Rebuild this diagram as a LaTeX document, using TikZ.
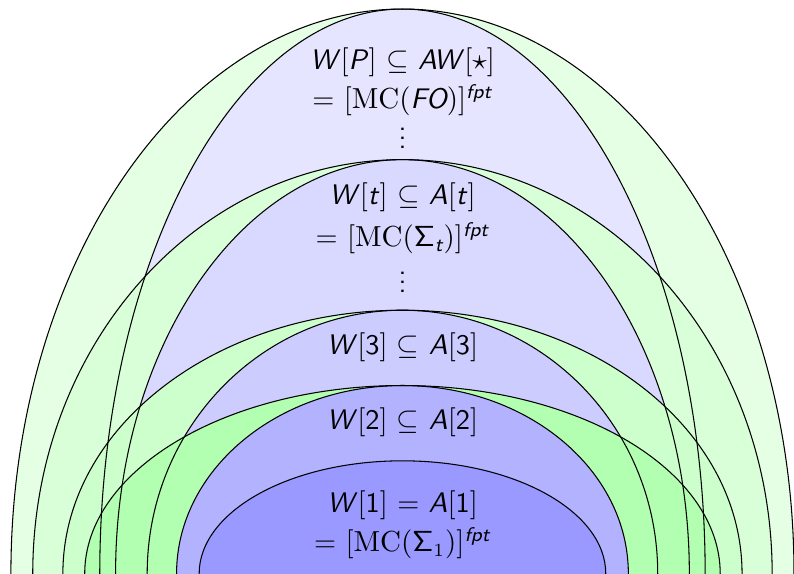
\documentclass[tikz,border=0pt]{standalone}
\usepackage{amsmath,amssymb}
\usepackage{tikz}
\usepackage{xcolor}
\renewcommand{\familydefault}{\sfdefault}
\newcommand{\sv}[1]{\textit{#1}}
\newcommand{\br}[1]{$[$#1$]$}
\newcommand{\fpt}{^{\textit{fpt}}}
\newcommand{\vdts}{\vbox{\baselineskip3.3pt\lineskiplimit0pt\hbox{.}\hbox{.}\hbox{.}}}

\begin{document}
\begin{tikzpicture}[every node/.style={anchor=base,inner sep=0pt,font=\fontsize{10.7pt}{13pt}\selectfont}]
\useasboundingbox (-5.345,0) rectangle (5.2,7.62);
\clip (-5.345,0) rectangle (5.2,7.62);

% fills, outermost first
\fill[green!10] (0,0) ellipse (5.2 and 7.5);
\fill[blue!10] (0,0) ellipse (4.02 and 7.5);
\fill[green!15] (0,0) ellipse (4.91 and 5.5);
\fill[blue!15] (0,0) ellipse (3.81 and 5.5);
\fill[green!20] (0,0) ellipse (4.51 and 3.5);
\fill[blue!20] (0,0) ellipse (3.39 and 3.5);
\fill[green!30] (0,0) ellipse (4.22 and 2.5);
\fill[blue!30] (0,0) ellipse (3.0 and 2.5);
\fill[blue!40] (0,0) ellipse (2.7 and 1.5);

% outlines on top
\draw (0,0) ellipse (5.2 and 7.5);
\draw (0,0) ellipse (4.02 and 7.5);
\draw (0,0) ellipse (4.91 and 5.5);
\draw (0,0) ellipse (3.81 and 5.5);
\draw (0,0) ellipse (4.51 and 3.5);
\draw (0,0) ellipse (3.39 and 3.5);
\draw (0,0) ellipse (4.22 and 2.5);
\draw (0,0) ellipse (3.0 and 2.5);
\draw (0,0) ellipse (2.7 and 1.5);

% labels
\node (wpA) at (0,6.70) {\sv{W}\br{\sv{P}} $\subseteq$ \sv{AW}\br{$\star$}};
\node (wpB) at (0,6.175) {= $[\mathrm{MC}(\textit{FO})]\fpt$};
\node[anchor=center] (wpdots) at (0,5.78) {\vdts};

\node (wtA) at (0,4.90) {\sv{W}\br{\sv{t}} $\subseteq$ \sv{A}\br{\sv{t}}};
\node (wtB) at (0,4.34) {= $[\mathrm{MC}(\mathsf{\Sigma}_{\textit{t}})]\fpt$};
\node[anchor=center] (wtdots) at (0,3.87) {\vdts};

\node (w3) at (0,2.91) {\sv{W}\br{3} $\subseteq$ \sv{A}\br{3}};
\node (w2) at (0,1.91) {\sv{W}\br{2} $\subseteq$ \sv{A}\br{2}};

\node (w1A) at (0,0.81) {\sv{W}\br{1} = \sv{A}\br{1}};
\node (w1B) at (0,0.29) {= $[\mathrm{MC}(\mathsf{\Sigma}_1)]\fpt$};
\end{tikzpicture}
\end{document}
